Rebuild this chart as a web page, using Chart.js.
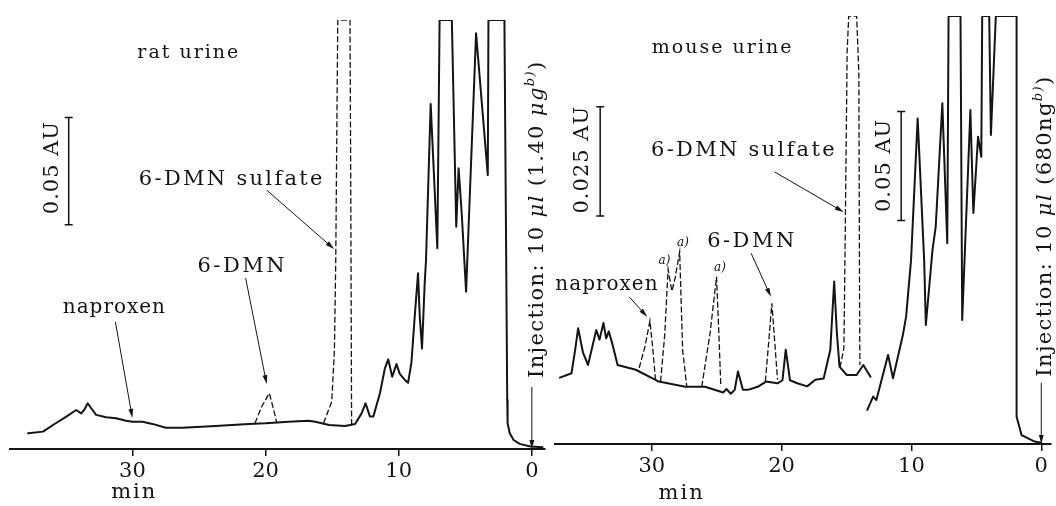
<!DOCTYPE html>
<html>
<head>
<meta charset="utf-8">
<title>HPLC of rat and mouse urine</title>
<script src="https://cdn.jsdelivr.net/npm/chart.js@4.4.1/dist/chart.umd.min.js"></script>
<style>
  html, body { margin: 0; padding: 0; background: #fff; }
  #wrap { position: relative; width: 1056px; height: 506px; overflow: hidden; background: #fff; }
  canvas { position: absolute; top: 0; }
  #rat { left: 0; }
  #mouse { left: 548px; }
</style>
</head>
<body>
<div id="wrap">
  <canvas id="rat" width="550" height="506"></canvas>
  <canvas id="mouse" width="508" height="506"></canvas>
</div>
<script>
// Chromatograms: [retention time (min), absorbance (mAU)].
// The time axis runs backwards (injection at 0 on the right).

const tickValues = [0, 10, 20, 30];

// --- rat urine (0.05 AU bar) ---
const ratTrace = [
  [37.84, 7.3], [36.72, 8.1], [35.97, 11.2], [34.97, 15.1], [34.23, 18.2], [33.85, 16.6],
  [33.6, 18.5], [33.36, 21.3], [33.1, 19.0], [32.73, 15.9], [31.98, 14.8], [31.23, 14.3],
  [30.49, 13.2], [29.99, 12.7], [29.24, 12.7], [28.5, 11.7], [27.5, 9.9], [26.25, 9.9],
  [23.76, 10.7], [21.26, 11.7], [20.01, 12.0], [18.27, 12.7], [16.78, 13.2], [16.27, 12.7],
  [15.23, 11.2], [14.03, 10.7], [13.28, 11.7], [12.79, 16.6], [12.49, 21.3], [12.16, 15.1],
  [11.91, 15.1], [11.41, 26.0], [11.04, 37.6], [10.79, 41.8], [10.49, 33.7], [10.17, 39.6],
  [9.92, 35.0], [9.54, 32.2], [9.3, 30.9], [9.05, 40.0], [8.8, 61.7], [8.55, 81.9],
  [8.42, 61.7], [8.25, 46.9], [8.05, 77.2], [7.95, 88.1], [7.6, 160.8], [7.1, 93.6],
  [6.93, 200], [6.01, 200], [5.68, 103.6], [5.5, 130.9], [5.26, 109], [4.94, 73.3],
  [4.19, 193.8], [3.31, 127.7], [3.26, 200], [2.06, 200], [1.85, 22.8], [1.82, 12.0],
  [1.67, 7.5], [1.37, 4.2], [0.92, 2.4], [0.1, 1.2], [-0.8, 0.8]
];
const ratDmn = [[20.8, 12.0], [20.3, 19.7], [19.72, 26.0], [19.39, 18.2], [19.15, 12.0]];
const ratSulfate = [
  [15.65, 12.0], [15.03, 22.1], [14.83, 46.2], [14.73, 88.1], [14.58, 200],
  [13.66, 200], [13.6, 116], [13.54, 11.2]
];

// --- mouse urine: first part at 0.025 AU bar, second part at 0.05 AU bar ---
const mouseTraceLow = [
  [37.07, 15.2], [36.18, 16.2], [35.9, 21.5], [35.67, 26.5], [35.3, 21.0], [34.91, 18.1],
  [34.27, 26.1], [34.02, 23.9], [33.72, 27.7], [33.51, 24.2], [33.31, 25.8], [33.05, 23.1],
  [32.63, 18.1], [31.23, 17.0], [29.45, 14.3], [27.42, 13.1], [25.89, 13.1], [24.5, 11.8],
  [24.25, 12.6], [23.91, 11.5], [23.61, 12.4], [23.36, 16.6], [22.98, 12.4], [22.6, 12.4],
  [21.84, 13.1], [21.2, 14.3], [20.31, 13.9], [19.93, 14.6], [19.68, 21.6], [19.35, 14.6],
  [18.79, 13.9], [18.03, 13.2], [17.4, 14.7], [16.76, 15.0], [16.25, 21.5], [15.95, 37.2],
  [15.74, 25.3], [15.54, 17.7], [14.98, 15.8], [14.22, 15.8], [13.71, 18.1], [13.15, 15.4]
];
const mouseTraceHigh = [
  [13.4, 15.6], [12.95, 21.7], [12.7, 20.1], [11.8, 40.8], [11.42, 30.1], [10.66, 49.9],
  [10.41, 58.3], [10.03, 84.2], [9.52, 149.1], [9.02, 84.2], [8.89, 54.5], [8.38, 88.8],
  [8.13, 99.5], [7.62, 156], [7.24, 91.9], [7.14, 196], [6.22, 196], [6.09, 56.8],
  [5.46, 152.9], [5.23, 105.8], [4.87, 140.7], [4.62, 131.5], [4.55, 196], [4.01, 196],
  [3.88, 141.5], [3.5, 196], [1.9, 196], [1.9, 12.5], [1.52, 4.1], [0.51, 1.1], [0, 0.6]
];
const mouseNaproxen = [[30.97, 17.4], [30.52, 22.3], [30.14, 28.2], [29.91, 21.5], [29.7, 14.3]];
const mousePeakPair = [
  [29.32, 14.3], [29.0, 25.0], [28.74, 40.0], [28.45, 35.0], [28.2, 38.0], [27.85, 44.0],
  [27.62, 21.5], [27.3, 13.1]
];
const mousePeakSingle = [[26.15, 13.1], [25.51, 25.3], [25.01, 38.3], [24.83, 25.3], [24.68, 13.1]];
const mouseDmn = [[21.25, 14.3], [21.0, 23.1], [20.75, 32.2], [20.52, 23.1], [20.31, 14.7]];
const mouseSulfate = [
  [15.5, 17.5], [15.2, 22], [15.11, 45], [14.95, 90], [14.83, 98], [14.22, 98],
  [14.05, 85], [13.99, 30], [13.97, 18.1]
];

const INK = '#141414';
const SERIF = '"DejaVu Serif", "Liberation Serif", serif';

const pts = arr => arr.map(([x, y]) => ({ x, y }));

function solid(arr, yAxisID = 'y') {
  return {
    data: pts(arr), yAxisID, borderColor: INK, borderWidth: 2,
    pointRadius: 0, fill: false, borderJoinStyle: 'round', borderCapStyle: 'round'
  };
}
function dashed(arr, yAxisID = 'y') {
  return {
    data: pts(arr), yAxisID, borderColor: INK, borderWidth: 1.3, borderDash: [6, 2.5],
    pointRadius: 0, fill: false
  };
}
// sensitivity bar, e.g. 0.05 AU = 50 mAU
function scaleBar(at, from, size, yAxisID = 'y') {
  return {
    data: [{ x: at, y: from }, { x: at, y: from + size }], yAxisID,
    borderColor: INK, borderWidth: 1.5, pointStyle: 'line', pointRadius: 4,
    pointBorderWidth: 1.5, pointBorderColor: INK
  };
}

function drawArrow(ctx, x1, y1, x2, y2) {
  const a = Math.atan2(y2 - y1, x2 - x1), L = 9, W = 2.4;
  ctx.lineWidth = 1;
  ctx.beginPath();
  ctx.moveTo(x1, y1);
  ctx.lineTo(x2 - Math.cos(a) * L * 0.6, y2 - Math.sin(a) * L * 0.6);
  ctx.stroke();
  ctx.beginPath();
  ctx.moveTo(x2, y2);
  ctx.lineTo(x2 - L * Math.cos(a) + W * Math.sin(a), y2 - L * Math.sin(a) - W * Math.cos(a));
  ctx.lineTo(x2 - L * Math.cos(a) - W * Math.sin(a), y2 - L * Math.sin(a) + W * Math.cos(a));
  ctx.closePath();
  ctx.fill();
}

// labels, arrows and the rotated injection note, placed in data units
function notesPlugin(notes) {
  return {
    id: 'notes',
    afterDatasetsDraw(chart) {
      const ctx = chart.ctx;
      const px = t => chart.scales.x.getPixelForValue(t);
      const py = v => chart.scales.y.getPixelForValue(v);
      ctx.save();
      ctx.fillStyle = INK;
      ctx.strokeStyle = INK;
      notes.texts.forEach(n => {
        ctx.save();
        ctx.font = (n.italic ? 'italic ' : '') + n.size + 'px ' + SERIF;
        ctx.letterSpacing = (n.gap || 0) + 'px';
        ctx.textAlign = 'center';
        ctx.translate(px(n.t), py(n.v));
        if (n.rot) {
          ctx.rotate(-Math.PI / 2);
          ctx.textBaseline = 'middle';
        } else {
          ctx.textBaseline = 'alphabetic';
        }
        ctx.fillText(n.text, 0, 0);
        ctx.restore();
      });
      notes.arrows.forEach(a => drawArrow(ctx, px(a[0]), py(a[1]), px(a[2]), py(a[3])));
      // rotated note, read bottom to top
      const inj = notes.injection;
      ctx.save();
      ctx.translate(px(inj.t), py(inj.v));
      ctx.rotate(-Math.PI / 2);
      ctx.textAlign = 'left';
      ctx.textBaseline = 'alphabetic';
      ctx.letterSpacing = inj.gap + 'px';
      let x = 0;
      const base = inj.size * 0.36;
      inj.parts.forEach(([s, style, sup]) => {
        const size = sup ? inj.size * 0.62 : inj.size;
        ctx.font = (style ? style + ' ' : '') + size + 'px ' + SERIF;
        ctx.fillText(s, x, sup ? base - inj.size * 0.4 : base);
        x += ctx.measureText(s).width;
      });
      ctx.restore();
      ctx.restore();
    }
  };
}

function xAxis(min, max, height) {
  return {
    type: 'linear', reverse: true, min, max, position: 'bottom',
    afterBuildTicks: axis => { axis.ticks = tickValues.map(value => ({ value })); },
    afterFit: axis => { axis.height = height; },
    grid: { display: true, drawOnChartArea: false, drawTicks: true, tickLength: 7, color: INK, lineWidth: 1.5 },
    border: { display: true, color: INK, width: 2 },
    ticks: { color: INK, padding: 3, maxRotation: 0, font: { family: SERIF, size: 21 } }
  };
}

function baseOptions(scales, padding) {
  return {
    responsive: false, animation: false, devicePixelRatio: 1, events: [],
    layout: { padding },
    plugins: { legend: { display: false }, tooltip: { enabled: false } },
    scales
  };
}

const ratNotes = {
  texts: [
    { t: 25.77, v: 182.3, text: 'rat urine', size: 19, gap: 2 },
    { t: 22.54, v: 123.1, text: '6-DMN sulfate', size: 21, gap: 2.3 },
    { t: 21.75, v: 82.7, text: '6-DMN', size: 21, gap: 2.5 },
    { t: 31.36, v: 63.4, text: 'naproxen', size: 20, gap: 1 },
    { t: 29.87, v: -23, text: 'min', size: 21, gap: 2 },
    { t: 36.04, v: 131.2, text: '0.05 AU', size: 21, gap: 1, rot: true }
  ],
  arrows: [
    [31.28, 59.2, 30.01, 14.5],
    [21.5, 79.7, 19.92, 30.3],
    [19.92, 120.7, 14.85, 93.2],
    [0, 28.9, 0, 0]
  ],
  injection: {
    t: -0.24, v: 33.1, size: 21, gap: 1.4,
    parts: [['Injection: 10 '], ['\u03bcl', 'italic'], [' (1.40 '], ['\u03bcg', 'italic'], ['b)', 'italic', true], [')']]
  }
};

const mouseNotes = {
  texts: [
    { t: 24.54, v: 89.6, text: 'mouse urine', size: 19, gap: 2 },
    { t: 22.9, v: 65.9, text: '6-DMN sulfate', size: 21, gap: 2.3 },
    { t: 22.28, v: 45.0, text: '6-DMN', size: 21, gap: 2.5 },
    { t: 33.45, v: 35.3, text: 'naproxen', size: 20, gap: 1 },
    { t: 27.6, v: 45.3, text: 'a)', size: 12, italic: true },
    { t: 29.02, v: 41.2, text: 'a)', size: 12, italic: true },
    { t: 24.75, v: 39.5, text: 'a)', size: 12, italic: true },
    { t: 27.7, v: -12.7, text: 'min', size: 21, gap: 2 },
    { t: 35.32, v: 65.1, text: '0.025 AU', size: 21, gap: 1, rot: true },
    { t: 12.09, v: 63.8, text: '0.05 AU', size: 21, gap: 1, rot: true }
  ],
  arrows: [
    [31.74, 33.7, 30.34, 29.1],
    [22.35, 43.7, 20.82, 33.7],
    [20.54, 62.3, 15.21, 53.1],
    [0, 14, 0, 0]
  ],
  injection: {
    t: -0.15, v: 15.4, size: 21, gap: 1.4,
    parts: [['Injection: 10 '], ['\u03bcl', 'italic'], [' (680'], ['ng'], ['b)', 'italic', true], [')']]
  }
};

new Chart(document.getElementById('rat'), {
  type: 'line',
  data: {
    datasets: [
      solid(ratTrace),
      dashed(ratDmn),
      dashed(ratSulfate),
      scaleBar(34.79, 104.5, 50)
    ]
  },
  options: baseOptions({
    x: xAxis(-0.95, 39.2, 57),
    y: { type: 'linear', display: false, min: 0, max: 200 }
  }, { left: 10, right: 3, top: 20, bottom: 0 }),
  plugins: [notesPlugin(ratNotes)]
});

new Chart(document.getElementById('mouse'), {
  type: 'line',
  data: {
    datasets: [
      solid(mouseTraceLow),
      solid(mouseTraceHigh, 'y2'),
      dashed(mouseNaproxen),
      dashed(mousePeakPair),
      dashed(mousePeakSingle),
      dashed(mouseDmn),
      dashed(mouseSulfate),
      scaleBar(33.97, 52.2, 25),
      scaleBar(10.79, 102.3, 50, 'y2')
    ]
  },
  options: baseOptions({
    x: xAxis(-0.71, 37.45, 62),
    y: { type: 'linear', display: false, min: 0, max: 98 },
    y2: { type: 'linear', display: false, min: 0, max: 196 }
  }, { left: 7, right: 0, top: 16, bottom: 0 }),
  plugins: [notesPlugin(mouseNotes)]
});
</script>
</body>
</html>
